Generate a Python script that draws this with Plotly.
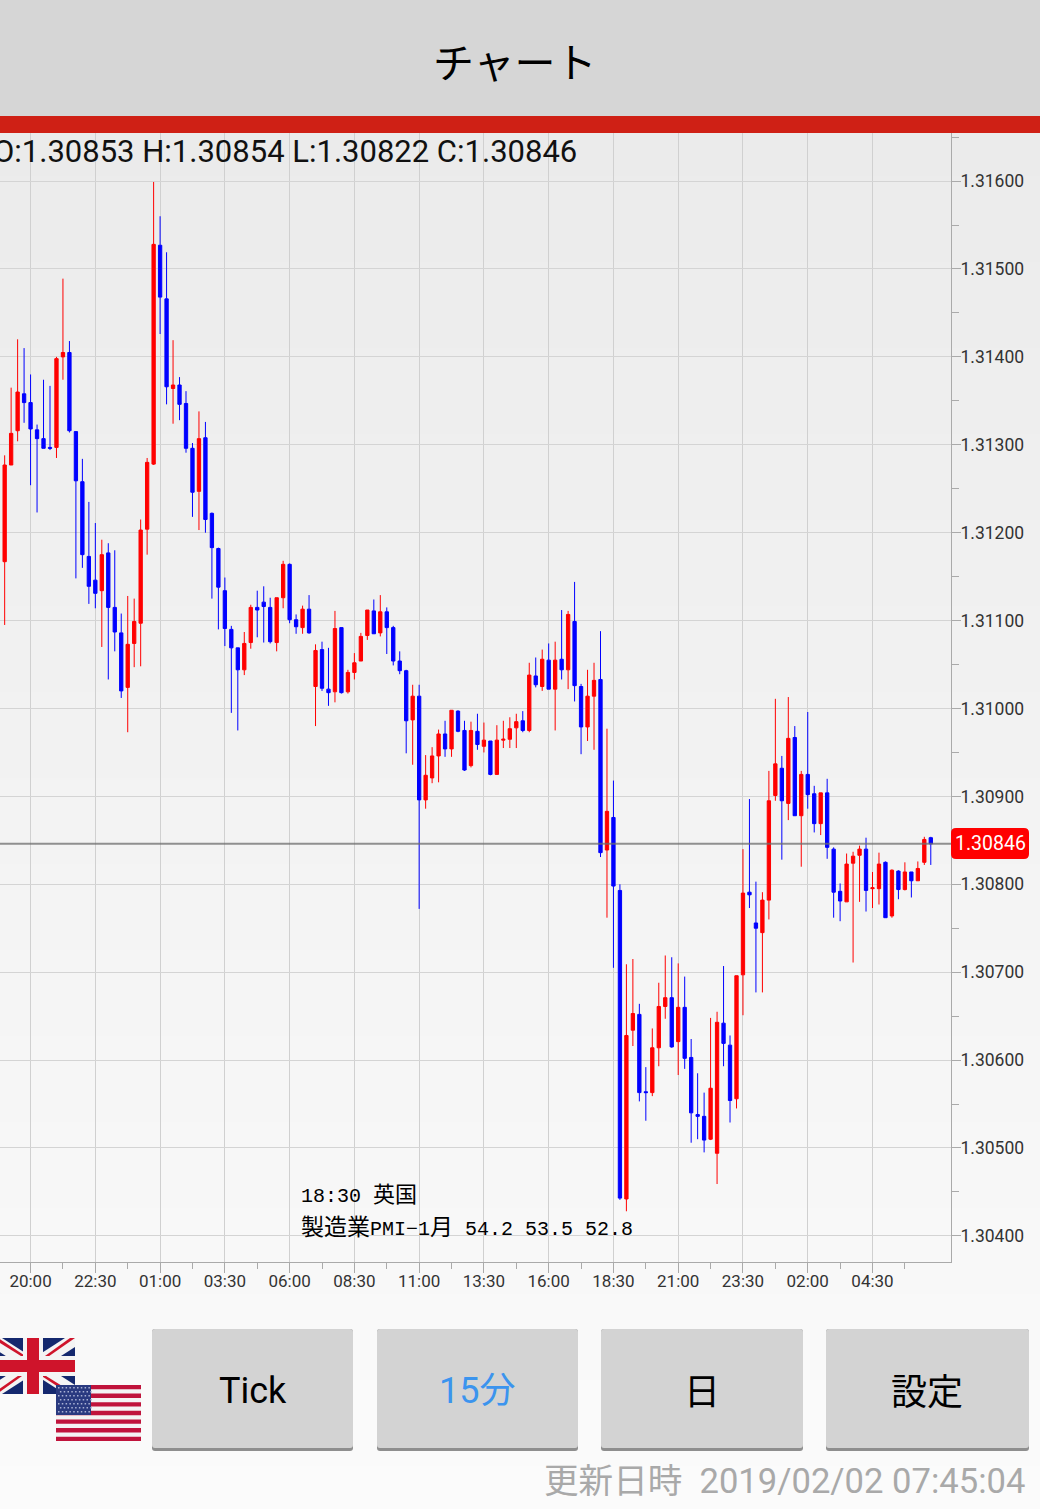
import plotly.graph_objects as go

# 15 minute candles GBP/USD
opens = [1.31167,1.31277,1.31316,1.31358,1.31348,1.31317,1.31307,1.31297,1.31297,1.31400,
         1.31405,1.31315,1.31258,1.31173,1.31146,1.31134,1.31177,1.31115,1.31086,1.31024,
         1.31074,1.31097,1.31204,1.31278,1.31527,1.31466,1.31364,1.31368,1.31347,1.31296,
         1.31247,1.31308,1.31222,1.31182,1.31134,1.31090,1.31069,1.31044,1.31075,1.31115,
         1.31121,1.31115,1.31075,1.31126,1.31164,1.31101,1.31092,1.31113,1.31025,1.31067,
         1.31022,1.31019,1.31092,1.31019,1.31041,1.31054,1.31083,1.31111,1.31086,1.31110,
         1.31092,1.31054,1.31043,1.30987,1.31014,1.30896,1.30921,1.30946,1.30971,1.30954,
         1.30997,1.30975,1.30935,1.30974,1.30957,1.30963,1.30925,1.30964,1.30965,1.30978,
         1.30986,1.30975,1.31037,1.31025,1.31055,1.31022,1.31056,1.31044,1.31099,1.31025,
         1.30979,1.31014,1.31033,1.30839,1.30876,1.30793,1.30442,1.30634,1.30652,1.30564,
         1.30563,1.30614,1.30661,1.30671,1.30621,1.30660,1.30603,1.30538,1.30536,1.30510,
         1.30494,1.30642,1.30617,1.30556,1.30697,1.30791,1.30756,1.30745,1.30782,1.30901,
         1.30932,1.30892,1.30967,1.30878,1.30925,1.30903,1.30869,1.30904,1.30840,1.30792,
         1.30780,1.30824,1.30833,1.30840,1.30795,1.30795,1.30825,1.30764,1.30815,1.30794,
         1.30814,1.30804,1.30825,1.30853]
closes = [1.31277,1.31313,1.31360,1.31348,1.31318,1.31307,1.31296,1.31296,1.31398,1.31405,
          1.31316,1.31259,1.31175,1.31139,1.31131,1.31175,1.31115,1.31087,1.31020,1.31073,
          1.31099,1.31203,1.31280,1.31528,1.31468,1.31366,1.31368,1.31346,1.31296,1.31246,
          1.31307,1.31215,1.31183,1.31138,1.31091,1.31069,1.31044,1.31074,1.31115,1.31112,
          1.31116,1.31076,1.31126,1.31164,1.31101,1.31093,1.31113,1.31086,1.31066,1.31023,
          1.31018,1.31091,1.31018,1.31041,1.31052,1.31082,1.31112,1.31085,1.31110,1.31092,
          1.31054,1.31043,1.30986,1.31014,1.30896,1.30924,1.30946,1.30971,1.30954,1.30998,
          1.30974,1.30930,1.30975,1.30959,1.30964,1.30925,1.30964,1.30965,1.30977,1.30985,
          1.30975,1.31038,1.31027,1.31056,1.31022,1.31055,1.31044,1.31107,1.31026,1.30979,
          1.31014,1.31032,1.30836,1.30883,1.30798,1.30443,1.30628,1.30653,1.30563,1.30563,
          1.30614,1.30661,1.30671,1.30615,1.30660,1.30602,1.30540,1.30536,1.30509,1.30568,
          1.30643,1.30619,1.30554,1.30696,1.30790,1.30788,1.30750,1.30782,1.30895,1.30937,
          1.30895,1.30966,1.30878,1.30925,1.30902,1.30869,1.30904,1.30842,1.30791,1.30781,
          1.30823,1.30832,1.30840,1.30793,1.30796,1.30823,1.30762,1.30816,1.30794,1.30814,
          1.30804,1.30818,1.30851,1.30846]
highs = [1.31288,1.31365,1.31420,1.31410,1.31380,1.31323,1.31374,1.31367,1.31400,1.31489,
         1.31418,1.31315,1.31284,1.31235,1.31211,1.31192,1.31188,1.31180,1.31108,1.31128,
         1.31125,1.31215,1.31285,1.31599,1.31560,1.31519,1.31419,1.31377,1.31361,1.31302,
         1.31338,1.31326,1.31223,1.31183,1.31149,1.31094,1.31069,1.31087,1.31118,1.31134,
         1.31139,1.31126,1.31126,1.31168,1.31165,1.31107,1.31117,1.31129,1.31073,1.31076,
         1.31069,1.31111,1.31092,1.31044,1.31063,1.31086,1.31112,1.31124,1.31129,1.31115,
         1.31094,1.31065,1.31044,1.31027,1.31027,1.30947,1.30956,1.30976,1.30986,1.30998,
         1.30998,1.30986,1.30985,1.30994,1.30984,1.30963,1.30981,1.30986,1.30990,1.30994,
         1.30997,1.31052,1.31058,1.31067,1.31074,1.31076,1.31112,1.31111,1.31144,1.31028,
         1.31044,1.31052,1.31088,1.30977,1.30918,1.30800,1.30709,1.30715,1.30664,1.30592,
         1.30636,1.30688,1.30719,1.30717,1.30710,1.30695,1.30624,1.30585,1.30563,1.30648,
         1.30655,1.30707,1.30628,1.30696,1.30840,1.30897,1.30803,1.30791,1.30929,1.31011,
         1.30946,1.31013,1.30980,1.30929,1.30996,1.30912,1.30904,1.30920,1.30842,1.30801,
         1.30835,1.30837,1.30844,1.30853,1.30814,1.30836,1.30826,1.30817,1.30816,1.30825,
         1.30814,1.30826,1.30854,1.30854]
lows = [1.31095,1.31277,1.31304,1.31325,1.31254,1.31223,1.31296,1.31294,1.31285,1.31374,
        1.31314,1.31148,1.31160,1.31119,1.31114,1.31070,1.31033,1.31065,1.31012,1.30973,
        1.31047,1.31048,1.31175,1.31277,1.31426,1.31346,1.31324,1.31328,1.31291,1.31218,
        1.31203,1.31200,1.31125,1.31090,1.31071,1.30995,1.30975,1.31038,1.31068,1.31081,
        1.31075,1.31074,1.31065,1.31114,1.31097,1.31085,1.31085,1.31085,1.30980,1.31020,
        1.31003,1.31007,1.31017,1.31017,1.31033,1.31054,1.31078,1.31085,1.31082,1.31062,
        1.31049,1.31039,1.30949,1.30936,1.30772,1.30886,1.30915,1.30916,1.30945,1.30945,
        1.30973,1.30929,1.30933,1.30953,1.30950,1.30924,1.30925,1.30955,1.30955,1.30955,
        1.30973,1.30973,1.31024,1.31020,1.31022,1.30975,1.31033,1.31022,1.31008,1.30948,
        1.30963,1.30953,1.30831,1.30762,1.30705,1.30441,1.30428,1.30616,1.30553,1.30531,
        1.30559,1.30593,1.30647,1.30614,1.30583,1.30590,1.30506,1.30510,1.30495,1.30509,
        1.30459,1.30593,1.30529,1.30545,1.30651,1.30773,1.30677,1.30677,1.30760,1.30895,
        1.30828,1.30873,1.30878,1.30820,1.30886,1.30859,1.30856,1.30829,1.30762,1.30758,
        1.30780,1.30711,1.30780,1.30769,1.30773,1.30777,1.30762,1.30762,1.30783,1.30793,
        1.30785,1.30804,1.30822,1.30822]

last_close = 1.30846
time_labels = ["20:00", "22:30", "01:00", "03:30", "06:00", "08:30", "11:00",
               "13:30", "16:00", "18:30", "21:00", "23:30", "02:00", "04:30"]
label_positions = [4, 14, 24, 34, 44, 54, 64, 74, 84, 94, 104, 114, 124, 134]
minor_positions = [-1, 9, 19, 29, 39, 49, 59, 69, 79, 89, 99, 109, 119, 129, 139]

W = 1040
H = 1509


def px(x):
    return x / W


def py(y):
    return 1 - y / H


def rect(x0, y0, x1, y1, color):
    return dict(type="rect", xref="paper", yref="paper", x0=px(x0), x1=px(x1), y0=py(y0), y1=py(y1),
                fillcolor=color, line_width=0, layer="below")


def round_rect(x0, y0, x1, y1, r, color, layer="below"):
    # rounded box as an svg path, paper coordinates
    a, b, c, d = px(x0), px(x1), py(y0), py(y1)
    rx, ry = r / W, r / H
    path = (f"M {a+rx} {c} L {b-rx} {c} Q {b} {c} {b} {c-ry} L {b} {d+ry} Q {b} {d} {b-rx} {d} "
            f"L {a+rx} {d} Q {a} {d} {a} {d+ry} L {a} {c-ry} Q {a} {c} {a+rx} {c} Z")
    return dict(type="path", xref="paper", yref="paper", path=path, fillcolor=color, line_width=0, layer=layer)


def poly(points, color):
    path = "M " + " L ".join(f"{px(x)} {py(y)}" for x, y in points) + " Z"
    return dict(type="path", xref="paper", yref="paper", path=path, fillcolor=color, line_width=0, layer="below")


def label(x, y, text, size, color="#000000", anchor="center", family="Noto Sans CJK JP"):
    return dict(xref="paper", yref="paper", x=px(x), y=py(y), text=text, showarrow=False,
                xanchor=anchor, yanchor="middle", font=dict(size=size, color=color, family=family))


fig = go.Figure()
fig.add_trace(go.Candlestick(
    x=list(range(len(opens))),
    open=opens, high=highs, low=lows, close=closes,
    increasing=dict(line=dict(color="#ff0000", width=1), fillcolor="#ff0000"),
    decreasing=dict(line=dict(color="#0000ff", width=1), fillcolor="#0000ff"),
    whiskerwidth=0,
    showlegend=False,
    hoverinfo="skip",
))

shapes = []

# background gradient of the chart page
bands = 96
for i in range(bands):
    g = round(0xeb + (0xfb - 0xeb) * i / (bands - 1))
    y0 = 133 + i * (1509 - 133) / bands
    y1 = 133 + (i + 1) * (1509 - 133) / bands + 1
    shapes.append(rect(0, y0, W, y1, f"rgb({g},{g},{g})"))

# header
shapes.append(rect(0, 0, W, 116, "#d6d6d6"))
shapes.append(rect(0, 116, W, 133, "#cf2015"))

# buttons
for x0, x1 in [(152, 353), (377, 578), (601, 803), (826, 1029)]:
    shapes.append(round_rect(x0, 1329, x1, 1451, 3, "#8e8e8e"))
    shapes.append(round_rect(x0, 1329, x1, 1448, 3, "#d3d3d3"))

# UK flag
navy = "#14286e"
white = "#f4f4f4"
red = "#cf142b"
shapes.append(rect(0, 1338, 75, 1394, navy))
shapes.append(poly([(-8, 1338), (2, 1338), (75, 1385), (75, 1394), (65, 1394), (-8, 1347)], white))
shapes.append(poly([(65, 1338), (75, 1338), (75, 1347), (2, 1394), (-8, 1394), (-8, 1385)], white))
shapes.append(poly([(-8, 1338), (-2, 1338), (33, 1361), (29, 1361)], red))
shapes.append(poly([(75, 1394), (69, 1394), (34, 1371), (38, 1371)], red))
shapes.append(poly([(75, 1338), (70, 1338), (38, 1361), (42, 1361)], red))
shapes.append(poly([(-8, 1394), (-3, 1394), (29, 1371), (25, 1371)], red))
shapes.append(rect(0, 1356, 75, 1376, white))
shapes.append(rect(23, 1338, 43, 1394, white))
shapes.append(rect(0, 1360, 75, 1372, red))
shapes.append(rect(27, 1338, 39, 1394, red))

# US flag
shapes.append(rect(56, 1385, 141, 1441, "#f4f4f4"))
for i in range(7):
    top = 1385 + i * 2 * 56 / 13
    shapes.append(rect(56, top, 141, top + 56 / 13, "#c0143c"))
shapes.append(rect(56, 1385, 91, 1415, "#2a3a80"))
for row in range(7):
    for col in range(9):
        sx = 58 + col * 3.8 + (row % 2) * 1.9
        sy = 1387 + row * 4
        shapes.append(rect(sx, sy, sx + 1.5, sy + 1.5, "#aab2d4"))

# last price line and its tag
shapes.append(dict(type="line", xref="paper", yref="y", x0=0, x1=951 / W, y0=last_close, y1=last_close,
                   line=dict(color="rgba(110,110,110,0.75)", width=2), layer="above"))
shapes.append(round_rect(951, 828, 1029, 859, 5, "#ff0000", layer="above"))

annotations = [
    label(515, 60, "チャート", 41),
    label(579, 151, "O:1.30853 H:1.30854 L:1.30822 C:1.30846", 31, "#111111", "right", "Roboto"),
    label(990, 843.5, "1.30846", 19.5, "#ffffff", "center", "Roboto"),
    label(299, 1196, '18:30 <span style="font-size:22px">英国</span>', 20, "#000000", "left",
          "Liberation Mono, Noto Sans CJK JP"),
    label(299, 1228, '<span style="font-size:23px">製造業</span>PMI−1<span style="font-size:23px">月</span>'
                     '\u00a054.2\u00a053.5\u00a052.8', 20, "#000000", "left",
          "Liberation Mono, Noto Sans CJK JP"),
    label(253, 1391, "Tick", 36, "#000000", "center", "Roboto"),
    label(477, 1391, "15分", 36, "#3b94ee", "center", "Roboto, Noto Sans CJK JP"),
    label(702, 1389, "日", 36),
    label(927, 1389, "設定", 36),
    label(1027, 1481, "更新日時\u00a0\u00a02019/02/02 07:45:04", 34.6, "#a9a9a9", "right", "Roboto, Noto Sans CJK JP"),
]

fig.update_layout(
    width=W,
    height=H,
    margin=dict(l=0, r=0, t=0, b=0),
    paper_bgcolor="#fbfbfb",
    plot_bgcolor="rgba(0,0,0,0)",
    showlegend=False,
    boxgap=0.27,
    shapes=shapes,
    annotations=annotations,
    xaxis=dict(
        domain=[0, 951 / W],
        range=[-0.72, 146.12],
        rangeslider=dict(visible=False),
        tickmode="array",
        tickvals=label_positions,
        ticktext=time_labels,
        ticks="outside",
        ticklen=10,
        tickcolor="#aaaaaa",
        tickfont=dict(family="Roboto", size=17, color="#333333"),
        ticklabelstandoff=-6,
        showgrid=True,
        gridcolor="#d0d0d0",
        gridwidth=1,
        showline=True,
        linecolor="#aaaaaa",
        linewidth=1,
        zeroline=False,
        minor=dict(tickmode="array", tickvals=minor_positions, ticks="outside", ticklen=6,
                   tickcolor="#aaaaaa", showgrid=False),
    ),
    yaxis=dict(
        domain=[py(1262), py(133)],
        range=[1.303703, 1.316547],
        side="right",
        tick0=1.304,
        dtick=0.001,
        tickformat=".5f",
        ticks="outside",
        ticklen=9,
        tickcolor="#aaaaaa",
        tickfont=dict(family="Roboto", size=17.5, color="#333333"),
        ticklabelstandoff=-4,
        showgrid=True,
        gridcolor="#d4d4d4",
        gridwidth=1,
        showline=True,
        linecolor="#aaaaaa",
        linewidth=1,
        zeroline=False,
        minor=dict(tick0=1.3035, dtick=0.001, ticks="outside", ticklen=7, tickcolor="#aaaaaa", showgrid=False),
    ),
)

# the default page has an 8px body margin
fig.write_html("out.html", config=dict(displayModeBar=False),
               post_script="document.body.style.margin='0';")
